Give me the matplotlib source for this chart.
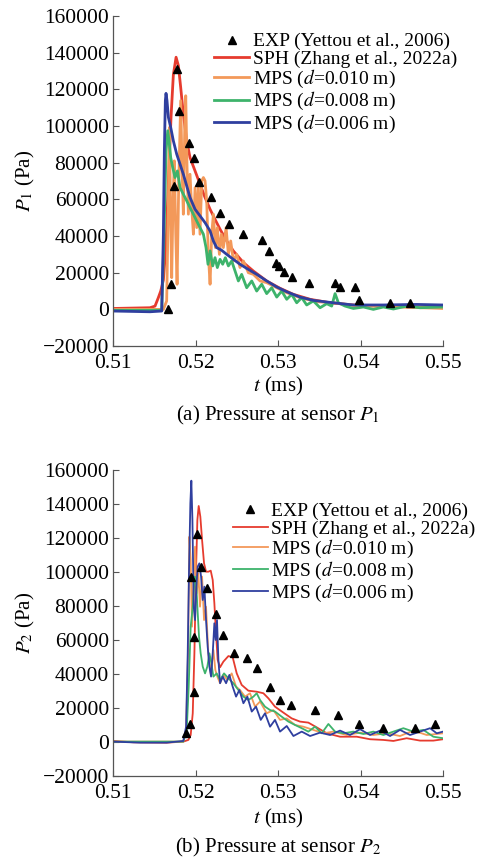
import matplotlib
matplotlib.use('Agg')
import matplotlib.pyplot as plt

plt.rcParams['font.family'] = ['Liberation Serif', 'DejaVu Serif']
plt.rcParams['mathtext.fontset'] = 'stix'

# ---- sensor P1 ----
exp1_t = [0.51671, 0.51703, 0.51739, 0.51780, 0.51804, 0.51921, 0.51986, 0.52038, 0.52188, 0.52297,
          0.52410, 0.52580, 0.52810, 0.52891, 0.52972, 0.53012, 0.53077, 0.53174, 0.53380, 0.53691,
          0.53751, 0.53933, 0.53982, 0.54357, 0.54600]
exp1_p = [0, 14000, 67300, 131000, 108300, 91000, 82800, 69200, 61300, 52800,
          46800, 41100, 37700, 31900, 25500, 23700, 20600, 17700, 14600, 14600,
          12000, 12200, 4900, 3600, 3600]

sph1_t = [0.5100, 0.51448, 0.51509, 0.51549, 0.51578, 0.51610, 0.51642, 0.51671, 0.51703, 0.51731,
          0.51764, 0.51792, 0.51820, 0.51852, 0.51893, 0.51933, 0.51994, 0.52054, 0.52115, 0.52176,
          0.52236, 0.52297, 0.52378, 0.52458, 0.52580, 0.52701, 0.52862, 0.53024, 0.53186, 0.53388,
          0.53630, 0.53913, 0.54276, 0.54680, 0.5500]
sph1_p = [500, 900, 1800, 6400, 10000, 16000, 35000, 70000, 105000, 128000,
          137500, 132900, 121000, 106500, 91900, 82800, 75500, 68300, 61000, 54600,
          49100, 43700, 37300, 31900, 25500, 20900, 15500, 11500, 8200, 5500,
          3600, 2400, 1800, 1300, 900]

d010_1_t = [0.5100, 0.51610, 0.51650, 0.51671, 0.51683, 0.51695, 0.51711, 0.51727, 0.51743, 0.51760,
            0.51776, 0.51796, 0.51820, 0.51836, 0.51852, 0.51869, 0.51881, 0.51897, 0.51913, 0.51933,
            0.51953, 0.51974, 0.51994, 0.52014, 0.52034, 0.52054, 0.52075, 0.52095, 0.52115, 0.52135,
            0.52155, 0.52176, 0.52196, 0.52216, 0.52240, 0.52264, 0.52289, 0.52313, 0.52337, 0.52370,
            0.52398, 0.52426, 0.52458, 0.52499, 0.52539, 0.52580, 0.52640, 0.52701, 0.52782, 0.52862,
            0.52984, 0.53105, 0.53266, 0.53468, 0.53670, 0.53872, 0.54074, 0.54478, 0.5500]
d010_1_p = [0, 0, 4600, 59200, 99200, 59200, 17300, 59200, 81000, 41000,
            13700, 68300, 113800, 77400, 51900, 99200, 116500, 77400, 51900, 73700,
            55500, 41000, 66400, 44600, 66400, 41000, 70100, 71900, 70100, 59200,
            30000, 13700, 41000, 51900, 33700, 44600, 30000, 41000, 33700, 44600,
            30000, 37300, 26400, 30000, 22800, 26400, 20000, 19100, 15500, 14600,
            11800, 9100, 6400, 4200, 3600, 2400, 1800, 1300, 500]

d008_1_t = [0.5100, 0.51590, 0.51618, 0.51642, 0.51663, 0.51683, 0.51699, 0.51723, 0.51751, 0.51780,
            0.51812, 0.51852, 0.51893, 0.51933, 0.51974, 0.52014, 0.52054, 0.52095, 0.52127, 0.52151,
            0.52176, 0.52208, 0.52236, 0.52264, 0.52297, 0.52329, 0.52361, 0.52398, 0.52438, 0.52479,
            0.52519, 0.52559, 0.52620, 0.52681, 0.52741, 0.52802, 0.52862, 0.52923, 0.52984, 0.53044,
            0.53105, 0.53165, 0.53226, 0.53287, 0.53347, 0.53428, 0.53509, 0.53590, 0.53650, 0.53691,
            0.53731, 0.53812, 0.53913, 0.54034, 0.54155, 0.54276, 0.54398, 0.54559, 0.54721, 0.5500]
d008_1_p = [-500, -500, 41000, 86500, 97400, 90100, 82800, 77400, 71900, 75500,
            66400, 62800, 59200, 55500, 51900, 48200, 44600, 41000, 33700, 24600,
            31900, 23700, 28200, 22800, 27300, 24600, 28200, 23700, 26400, 20900,
            15500, 19100, 11800, 15500, 10000, 13700, 8600, 11800, 6700, 10000,
            5500, 8200, 3600, 6400, 2400, 4600, 900, 3100, 1800, 8600,
            3600, 1800, 500, 1300, 0, 1300, 200, 1800, 900, 1300]

d006_1_t = [0.5100, 0.51448, 0.51590, 0.51610, 0.51622, 0.51634, 0.51642, 0.51654, 0.51671, 0.51699,
            0.51731, 0.51772, 0.51812, 0.51852, 0.51893, 0.51933, 0.51994, 0.52054, 0.52115, 0.52176,
            0.52216, 0.52256, 0.52317, 0.52378, 0.52458, 0.52539, 0.52640, 0.52741, 0.52862, 0.52984,
            0.53105, 0.53266, 0.53428, 0.53670, 0.53913, 0.54276, 0.54680, 0.5500]
d006_1_p = [-900, -1300, -900, 41000, 86500, 113800, 117800, 113800, 104700, 99200,
            91900, 84600, 79200, 73700, 67300, 61000, 54600, 51000, 47300, 42800,
            37300, 33700, 32200, 30000, 27300, 24600, 21800, 19100, 15500, 12200,
            9600, 6700, 4900, 3600, 2400, 2400, 2700, 2400]

# ---- sensor P2 ----
exp2_t = [0.51885, 0.51933, 0.51982, 0.51982, 0.51941, 0.52022, 0.52071, 0.52143, 0.52244, 0.52337,
          0.52467, 0.52620, 0.52749, 0.52903, 0.53024, 0.53153, 0.53448, 0.53723, 0.53986, 0.54276,
          0.54660, 0.54903]
exp2_p = [4900, 10400, 29400, 61800, 97200, 122300, 103000, 90300, 75200, 62800,
          52000, 49100, 43200, 32400, 24500, 21600, 18600, 15700, 10400, 7900,
          7900, 10400]

sph2_t = [0.5100, 0.51246, 0.51650, 0.51852, 0.51913, 0.51941, 0.51966, 0.51986, 0.52006, 0.52022,
          0.52038, 0.52058, 0.52079, 0.52103, 0.52127, 0.52155, 0.52184, 0.52208, 0.52228, 0.52248,
          0.52268, 0.52297, 0.52337, 0.52398, 0.52450, 0.52499, 0.52559, 0.52640, 0.52741, 0.52822,
          0.52883, 0.52963, 0.53064, 0.53165, 0.53266, 0.53367, 0.53468, 0.53590, 0.53751, 0.53953,
          0.54115, 0.54276, 0.54398, 0.54559, 0.54721, 0.54882, 0.5500]
sph2_p = [400, -400, -600, 0, 1000, 3900, 16700, 52000, 101100, 130500,
          138800, 132500, 118800, 105000, 100100, 100100, 100700, 95200, 81500, 63800,
          48100, 43800, 47100, 50400, 49700, 40200, 33400, 30000, 29400, 28500,
          25500, 20600, 17100, 13700, 11800, 11200, 8400, 4900, 2900, 2900,
          1400, 1000, 400, 2000, 600, 600, 1400]

d010_2_t = [0.5100, 0.51852, 0.51885, 0.51909, 0.51925, 0.51941, 0.51957, 0.51974, 0.51994, 0.52014,
            0.52034, 0.52054, 0.52079, 0.52103, 0.52127, 0.52155, 0.52184, 0.52216, 0.52240, 0.52264,
            0.52297, 0.52337, 0.52386, 0.52438, 0.52491, 0.52539, 0.52600, 0.52660, 0.52721, 0.52782,
            0.52862, 0.52943, 0.53024, 0.53105, 0.53206, 0.53307, 0.53428, 0.53549, 0.53670, 0.53832,
            0.53994, 0.54155, 0.54317, 0.54478, 0.54640, 0.54802, 0.5500]
d010_2_p = [0, 0, 6900, 52000, 120700, 107000, 67700, 91300, 114800, 87400,
            99100, 79500, 97200, 71600, 79500, 52000, 40200, 54000, 42200, 38300,
            34400, 39300, 36300, 40200, 32400, 30400, 26500, 28500, 20600, 23600,
            16700, 18600, 12800, 13700, 9800, 8800, 6900, 4900, 5900, 3900,
            5300, 3900, 4900, 3300, 6500, 3900, 4900]

d008_2_t = [0.5100, 0.51852, 0.51893, 0.51917, 0.51941, 0.51966, 0.51990, 0.52006, 0.52022, 0.52042,
            0.52062, 0.52087, 0.52115, 0.52143, 0.52168, 0.52192, 0.52216, 0.52256, 0.52297, 0.52345,
            0.52398, 0.52458, 0.52519, 0.52580, 0.52640, 0.52701, 0.52741, 0.52782, 0.52842, 0.52903,
            0.52963, 0.53044, 0.53125, 0.53206, 0.53287, 0.53367, 0.53448, 0.53529, 0.53610, 0.53691,
            0.53792, 0.53913, 0.54034, 0.54155, 0.54276, 0.54398, 0.54519, 0.54640, 0.54761, 0.54882,
            0.5500]
d008_2_p = [0, 0, 6900, 32400, 67700, 79500, 97200, 95200, 79500, 61800,
            52000, 44200, 40200, 44200, 52000, 46100, 38300, 40200, 36300, 40200,
            37300, 34400, 30400, 26500, 24500, 26500, 28500, 24500, 20600, 18600,
            17700, 14700, 11800, 9800, 7900, 5900, 8800, 4900, 10400, 5900,
            4900, 5900, 4500, 5900, 3900, 5900, 7900, 5900, 6900, 2900,
            2000]

d006_2_t = [0.5100, 0.51327, 0.51650, 0.51852, 0.51885, 0.51905, 0.51921, 0.51937, 0.51949, 0.51962,
            0.51978, 0.51994, 0.52010, 0.52026, 0.52046, 0.52067, 0.52087, 0.52107, 0.52127, 0.52147,
            0.52168, 0.52188, 0.52208, 0.52228, 0.52244, 0.52260, 0.52277, 0.52297, 0.52329, 0.52370,
            0.52410, 0.52450, 0.52491, 0.52531, 0.52580, 0.52628, 0.52681, 0.52733, 0.52790, 0.52842,
            0.52903, 0.52963, 0.53024, 0.53105, 0.53186, 0.53287, 0.53388, 0.53509, 0.53630, 0.53751,
            0.53872, 0.53994, 0.54115, 0.54236, 0.54357, 0.54478, 0.54600, 0.54721, 0.54842, 0.54923,
            0.5500]
d006_2_p = [0, -600, -600, 400, 8800, 52000, 101100, 140400, 153700, 130500,
            79500, 71600, 91300, 103100, 105000, 97200, 83400, 91300, 71600, 55900,
            44200, 38300, 52000, 69700, 59900, 71600, 48100, 34400, 38300, 34400,
            39300, 32400, 26500, 30400, 22600, 26500, 17700, 20600, 12800, 16700,
            8800, 12800, 5900, 9200, 3300, 5900, 3300, 5300, 3900, 6500,
            3900, 7300, 3900, 6500, 3300, 6900, 3900, 5900, 7900, 4900,
            5900]

labels = ['EXP (Yettou et al., 2006)', 'SPH (Zhang et al., 2022a)',
          'MPS ($d$=0.010 m)', 'MPS ($d$=0.008 m)', 'MPS ($d$=0.006 m)']
colors = ['#e63b2e', '#f3995a', '#3db36b', '#2f3f9f']
xticks = [0.51, 0.52, 0.53, 0.54, 0.55]
yticks = [-20000, 0, 20000, 40000, 60000, 80000, 100000, 120000, 140000, 160000]

panels = [
    dict(rect=[0.236, 0.599, 0.689, 0.3825], exp=(exp1_t, exp1_p),
         lines=[(sph1_t, sph1_p), (d010_1_t, d010_1_p), (d008_1_t, d008_1_p), (d006_1_t, d006_1_p)],
         lw=2.0, ylab=r'$P_1$ (Pa)', cap=r'(a) Pressure at sensor $P_1$',
         leg=(0.955, 0.962), xl_y=0.5516, cap_y=0.519),
    dict(rect=[0.236, 0.1013, 0.689, 0.3541], exp=(exp2_t, exp2_p),
         lines=[(sph2_t, sph2_p), (d010_2_t, d010_2_p), (d008_2_t, d008_2_p), (d006_2_t, d006_2_p)],
         lw=1.3, ylab=r'$P_2$ (Pa)', cap=r'(b) Pressure at sensor $P_2$',
         leg=(0.993, 0.418), xl_y=0.052, cap_y=0.0185),
]

fig = plt.figure(figsize=(4.79, 8.63), dpi=100)
for pn in panels:
    ax = fig.add_axes(pn['rect'])
    h = []
    h.append(ax.plot(pn['exp'][0], pn['exp'][1], linestyle='none', marker='^',
                     color='black', markersize=6, zorder=5)[0])
    for (tt, pp), c in zip(pn['lines'], colors):
        h.append(ax.plot(tt, pp, color=c, lw=pn['lw'])[0])
    ax.set_xlim(0.51, 0.55)
    ax.set_ylim(-20000, 160000)
    ax.set_xticks(xticks)
    ax.set_xticklabels(['0.51', '0.52', '0.53', '0.54', '0.55'])
    ax.set_yticks(yticks)
    ax.tick_params(direction='in', labelsize=15.5, color='#555555', length=4, width=0.8)
    ax.tick_params(axis='x', pad=6)
    ax.tick_params(axis='y', pad=3)
    for s in ['top', 'right']:
        ax.spines[s].set_visible(False)
    for s in ['left', 'bottom']:
        ax.spines[s].set_color('#555555')
        ax.spines[s].set_linewidth(0.9)
    ax.set_ylabel(pn['ylab'], fontsize=15, labelpad=4)
    fig.text(0.58, pn['xl_y'], r'$t$ (ms)', fontsize=15, ha='center', va='center')
    fig.text(0.58, pn['cap_y'], pn['cap'], fontsize=15, ha='center', va='center')
    fig.legend(h, labels, loc='upper right', bbox_to_anchor=pn['leg'], frameon=False,
               fontsize=14, handlelength=1.8, handletextpad=0.2, labelspacing=0.0,
               borderaxespad=0, borderpad=0)

plt.savefig('out.png', dpi=100)
